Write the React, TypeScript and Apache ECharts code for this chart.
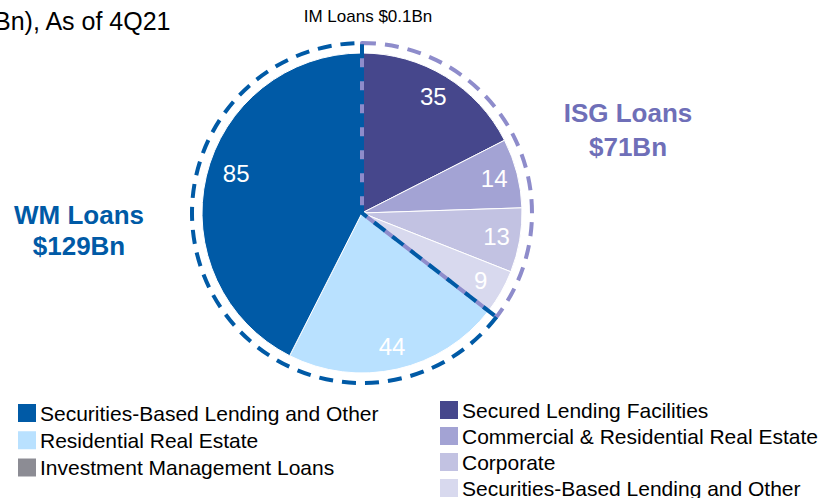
import React, { useEffect, useRef } from "react";
import * as echarts from "echarts";

const FONT = "Arial, 'Liberation Sans', sans-serif";

const sliceNames = [
  "ISG: Secured Lending Facilities",
  "ISG: Commercial & Residential Real Estate",
  "ISG: Corporate",
  "ISG: Securities-Based Lending and Other",
  "WM: Residential Real Estate",
  "WM: Securities-Based Lending and Other",
  "IM: Investment Management Loans",
];
const sliceValues = [35, 14, 13, 9, 44, 85, 0.1];
const sliceColors = ["#46478c", "#a3a3d4", "#c2c2e2", "#d8d9ee", "#b9e1ff", "#005aa6", "#8c8c94"];
const showLabel = [true, true, true, true, true, true, false];

const groupNames = ["ISG Loans", "WM Loans"];
const groupValues = [71, 129.1];
const groupColors = ["#8e8ccb", "#005aa6"];

const legendLeft = [
  "WM: Securities-Based Lending and Other",
  "WM: Residential Real Estate",
  "IM: Investment Management Loans",
];
const legendRight = [
  "ISG: Secured Lending Facilities",
  "ISG: Commercial & Residential Real Estate",
  "ISG: Corporate",
  "ISG: Securities-Based Lending and Other",
];

export default function App() {
  const ref = useRef<HTMLDivElement>(null);
  useEffect(() => {
    const chart = echarts.init(ref.current!, null, { renderer: "svg" });
    const center = [362, 213];
    const mainData = sliceNames.map((n, i) => ({
      name: n,
      value: sliceValues[i],
      itemStyle: { color: sliceColors[i] },
    }));
    const labelData = sliceNames.map((n, i) => ({
      name: n,
      value: sliceValues[i],
      label: i === 5 ? { show: showLabel[i], offset: [7, -8] } : { show: showLabel[i] },
    }));
    const legendCommon = {
      orient: "vertical" as const,
      icon: "rect",
      itemWidth: 20,
      itemHeight: 20,
      padding: 0,
      height: 120,
      selectedMode: false,
      formatter: (name: string) => name.replace(/^(WM|ISG|IM): /, ""),
      textStyle: { fontFamily: FONT, fontSize: 21, lineHeight: 20, color: "#000", padding: [0, 0, 0, -2] },
    };
    chart.setOption({
      animation: false,
      backgroundColor: "#fff",
      legend: [
        { ...legendCommon, left: 16, top: 402, itemGap: 5.3, data: legendLeft },
        { ...legendCommon, left: 438, top: 399, itemGap: 4, data: legendRight },
      ],
      graphic: [
        {
          type: "text",
          left: -6,
          top: 8,
          style: { text: "Bn), As of 4Q21", font: `25px ${FONT}`, fill: "#000" },
        },
        {
          type: "text",
          x: 368,
          y: 16,
          style: { text: "IM Loans $0.1Bn", font: `17px ${FONT}`, fill: "#000", textAlign: "center", textVerticalAlign: "middle" },
        },
        {
          type: "text",
          x: 628,
          y: 130,
          style: {
            text: "ISG Loans\n$71Bn",
            font: `bold 26px ${FONT}`,
            lineHeight: 34,
            fill: "#6f6fb8",
            textAlign: "center",
            textVerticalAlign: "middle",
          },
        },
        {
          type: "text",
          x: 79,
          y: 230,
          style: {
            text: "WM Loans\n$129Bn",
            font: `bold 26px ${FONT}`,
            lineHeight: 31,
            fill: "#005aa6",
            textAlign: "center",
            textVerticalAlign: "middle",
          },
        },
      ],
      series: [
        {
          type: "pie",
          name: "main",
          center,
          radius: [0, 160],
          startAngle: 90,
          clockwise: true,
          silent: true,
          label: { show: false },
          labelLine: { show: false },
          itemStyle: { borderColor: "#fff", borderWidth: 1 },
          data: mainData,
        },
        {
          type: "pie",
          name: "labels",
          center,
          radius: [107, 160],
          startAngle: 90,
          clockwise: true,
          silent: true,
          legendHoverLink: false,
          itemStyle: { color: "transparent", borderWidth: 0 },
          label: {
            show: true,
            position: "inside",
            formatter: "{c}",
            color: "#fff",
            fontFamily: FONT,
            fontSize: 24,
          },
          labelLine: { show: false },
          data: labelData,
          z: 3,
        },
        {
          type: "pie",
          name: "groups",
          center,
          radius: [0, 170],
          startAngle: 90,
          clockwise: true,
          silent: true,
          label: { show: false },
          labelLine: { show: false },
          data: groupNames.map((n, i) => ({
            name: n,
            value: groupValues[i],
            itemStyle: {
              color: "transparent",
              borderColor: groupColors[i],
              borderWidth: 4,
              borderType: [14, 9],
            },
          })),
          z: 4,
        },
      ],
    });
    return () => chart.dispose();
  }, []);
  return <div ref={ref} style={{ position: "fixed", left: 0, top: 0, width: 829, height: 498 }} />;
}
